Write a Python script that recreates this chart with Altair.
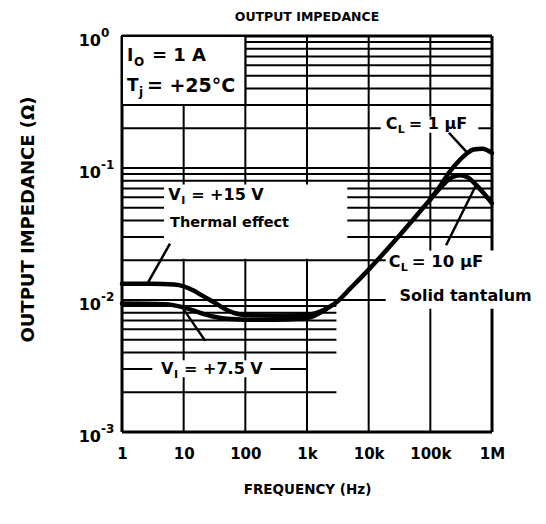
import altair as alt
import pandas as pd

# ---------------- data ----------------
x_decades = [1, 10, 100, 1000, 10000, 100000, 1000000]
x_labels = ["1", "10", "100", "1k", "10k", "100k", "1M"]
y_decades = [0.001, 0.01, 0.1, 1]
y_label_base = ["10", "10", "10", "10"]
y_label_exp = ["-3", "-2", "-1", "0"]

# V_I = +15 V (thermal effect), low-frequency part
f_15v = [1, 3, 7, 10, 15, 20, 30, 50, 70, 100, 300, 1000, 2000]
z_15v = [0.0133, 0.0133, 0.0131, 0.0127, 0.0117, 0.0108, 0.0097, 0.0084, 0.0079, 0.0077, 0.0076, 0.0077, 0.0085]
# V_I = +7.5 V, low-frequency part
f_75v = [1, 5, 10, 20, 30, 50, 100, 300, 1000, 2000]
z_75v = [0.0094, 0.0093, 0.0088, 0.0079, 0.0075, 0.0072, 0.0071, 0.0071, 0.0073, 0.0085]
# common rising part
f_rise = [2000, 3000, 5000, 10000, 30000, 100000]
z_rise = [0.0085, 0.0096, 0.0122, 0.017, 0.030, 0.058]
# C_L = 1 uF
f_1uf = [100000, 150000, 200000, 300000, 400000, 500000, 700000, 1000000]
z_1uf = [0.058, 0.075, 0.092, 0.115, 0.13, 0.138, 0.14, 0.13]
# C_L = 10 uF solid tantalum
f_10uf = [100000, 150000, 200000, 300000, 400000, 500000, 700000, 1000000]
z_10uf = [0.058, 0.072, 0.082, 0.088, 0.085, 0.078, 0.066, 0.054]

# horizontal minor grid lines: level, start, end
h_level = [1, 0.9, 0.8, 0.7, 0.6, 0.5, 0.4, 0.3, 0.2,
           0.1, 0.09, 0.08, 0.07, 0.06, 0.05, 0.04, 0.03, 0.02,
           0.01, 0.009, 0.008, 0.007, 0.006, 0.005, 0.004, 0.003, 0.002, 0.001]
h_from = [1] * 28
h_to = [1e6] * 19 + [3000, 3000, 3000, 3000, 3000, 3000, 1000, 3000, 1e6]
h_width = [3] + [2] * 26 + [3]
v_width = [3, 2, 2, 2, 2, 2, 3]

# white label backgrounds (freq from/to, impedance from/to)
box_f1 = [1, 4.8, 3.1, 15700, 18900]
box_f2 = [100, 4500, 254, 600000, 7.6e6]
box_z1 = [0.3, 0.0205, 0.0026, 0.185, 0.0086]
box_z2 = [1, 0.075, 0.0035, 0.245, 0.0237]
box_edge = [2, 0, 0, 0, 0]

# pointer lines (from label to curve)
ptr_f1 = [6.0, 22.4, 200000, 180000]
ptr_z1 = [0.0267, 0.0049, 0.185, 0.026]
ptr_f2 = [2.65, 9.8, 400000, 550000]
ptr_z2 = [0.0136, 0.0086, 0.13, 0.074]

FONT = "DejaVu Sans"

xs = alt.Scale(type="log", domain=[1, 1e6], nice=False)
ys = alt.Scale(type="log", domain=[0.001, 1], nice=False)

x_map = "{" + ",".join(f"'{i}':'{l}'" for i, l in enumerate(x_labels)) + "}"

x_axis = alt.Axis(values=x_decades, labelExpr=f"{x_map}[''+round(log(datum.value)/LN10)]",
                  grid=False, ticks=False, domain=False, labelFlush=False, labelOverlap=False,
                  labelFont=FONT, labelFontWeight="bold", labelFontSize=15, labelColor="black",
                  labelPadding=14, title="FREQUENCY (Hz)", titleFont=FONT, titleFontWeight="bold",
                  titleFontSize=13.5, titleColor="black", titlePadding=21)
y_axis = alt.Axis(values=y_decades, labels=False, grid=False, ticks=False, domain=False,
                  title="OUTPUT IMPEDANCE (Ω)", titleFont=FONT,
                  titleFontWeight="bold", titleFontSize=18, titleColor="black",
                  titleX=-94, titleY=183, titleAngle=270, titleAlign="center", titleBaseline="middle")


def X(field):
    return alt.X(field, type="quantitative", scale=xs, axis=x_axis)


def Y(field):
    return alt.Y(field, type="quantitative", scale=ys, axis=y_axis)


vdf = pd.DataFrame({"f": x_decades, "z1": [0.001] * 7, "z2": [1] * 7, "w": v_width})
vrules = alt.Chart(vdf).mark_rule(color="black").encode(
    x=X("f"), y=Y("z1"), y2="z2", strokeWidth=alt.StrokeWidth("w:Q", scale=None))

hdf = pd.DataFrame({"z": h_level, "f1": h_from, "f2": h_to, "w": h_width})
hrules = alt.Chart(hdf).mark_rule(color="black").encode(
    y=Y("z"), x=X("f1"), x2="f2", strokeWidth=alt.StrokeWidth("w:Q", scale=None))

bdf = pd.DataFrame({"f1": box_f1, "f2": box_f2, "z1": box_z1, "z2": box_z2, "e": box_edge})
boxes = alt.Chart(bdf).mark_rect(fill="white", stroke="black").encode(
    x=X("f1"), x2="f2", y=Y("z1"), y2="z2", strokeWidth=alt.StrokeWidth("e:Q", scale=None))

rows = []
for name, fs, zs in [("15v", f_15v, z_15v), ("75v", f_75v, z_75v), ("rise", f_rise, z_rise),
                     ("1uf", f_1uf, z_1uf), ("10uf", f_10uf, z_10uf)]:
    for f, z in zip(fs, zs):
        rows.append({"s": name, "f": f, "z": z})
cdf = pd.DataFrame(rows)
curves = alt.Chart(cdf).mark_line(color="black", strokeWidth=4.5, interpolate="monotone",
                                  strokeCap="round").encode(
    x=X("f"), y=Y("z"), detail="s:N")

pdf = pd.DataFrame({"f1": ptr_f1, "z1": ptr_z1, "f2": ptr_f2, "z2": ptr_z2})
pointers = alt.Chart(pdf).mark_rule(color="black", strokeWidth=2.5).encode(
    x=X("f1"), y=Y("z1"), x2="f2", y2="z2")

# y tick labels with real superscripts
ydf = pd.DataFrame({"f": [1] * 4, "z": y_decades, "b": y_label_base, "e": y_label_exp})
ybase = alt.Chart(ydf).mark_text(align="right", baseline="middle", dx=-21, dy=5, fontSize=16,
                                 font=FONT, fontWeight="bold", color="black").encode(
    x=X("f"), y=Y("z"), text="b:N")
yexp = alt.Chart(ydf).mark_text(align="left", baseline="middle", dx=-21, dy=-3, fontSize=12,
                                font=FONT, fontWeight="bold", color="black").encode(
    x=X("f"), y=Y("z"), text="e:N")


def piece(f, z, text, dx=0, dy=0, size=15):
    d = pd.DataFrame({"f": [f], "z": [z], "t": [text]})
    return alt.Chart(d).mark_text(align="left", baseline="middle", dx=dx, dy=dy, fontSize=size,
                                  font=FONT, fontWeight="bold", color="black").encode(
        x=X("f"), y=Y("z"), text="t:N")


texts = [
    piece(1.2, 0.70, "I", size=17), piece(1.2, 0.70, "O", dx=7, dy=6, size=12),
    piece(1.2, 0.70, "= 1 A", dx=25, size=18),
    piece(1.2, 0.42, "T", size=17), piece(1.2, 0.42, "j", dx=12, dy=6, size=12),
    piece(1.2, 0.42, "= +25°C", dx=20, size=19),
    piece(5.6, 0.0626, "V", size=16), piece(5.6, 0.0626, "I", dx=13, dy=6, size=11),
    piece(5.6, 0.0626, "= +15 V", dx=23, size=16),
    piece(6.0, 0.038, "Thermal effect", size=14.5),
    piece(4.3, 0.003, "V", size=16), piece(4.3, 0.003, "I", dx=13, dy=6, size=11),
    piece(4.3, 0.003, "= +7.5 V", dx=23, size=16),
    piece(18900, 0.216, "C", size=16), piece(18900, 0.216, "L", dx=12, dy=6, size=11),
    piece(18900, 0.216, "= 1 µF", dx=23, size=16),
    piece(21100, 0.0193, "C", size=16), piece(21100, 0.0193, "L", dx=12, dy=6, size=11),
    piece(21100, 0.0193, "= 10 µF", dx=23, size=16.5),
    piece(31500, 0.0107, "Solid tantalum", size=16),
]

chart = alt.layer(vrules, hrules, boxes, curves, pointers, ybase, yexp, *texts).properties(
    width=370, height=396,
    autosize=alt.AutoSizeParams(type="none"),
    padding={"left": 114, "top": 28, "right": 45, "bottom": 80},
    title=alt.TitleParams("OUTPUT IMPEDANCE", font=FONT, fontSize=12.5, fontWeight="bold",
                          color="black", anchor="middle", frame="group", offset=-6,
                          baseline="alphabetic"),
).configure_view(stroke=None).configure(background="white")

chart.save("out.html", embed_options={"renderer": "svg", "actions": False})
